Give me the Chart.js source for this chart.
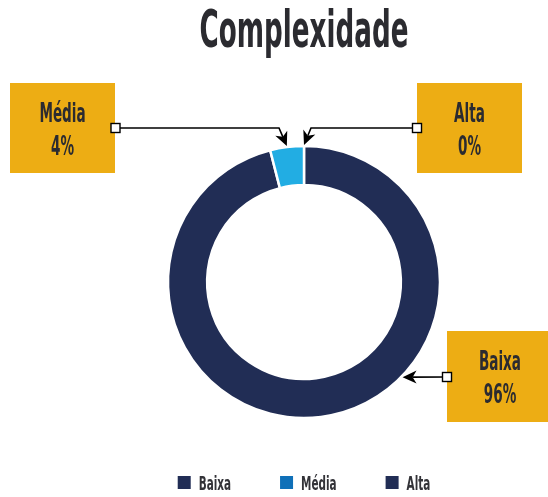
<!DOCTYPE html>
<html>
<head>
<meta charset="utf-8">
<script src="https://cdn.jsdelivr.net/npm/chart.js@4.4.1/dist/chart.umd.min.js"></script>
<style>
html, body { margin: 0; padding: 0; background: #fff; }
#caixa { width: 548px; height: 497px; }
</style>
</head>
<body>
<div id="caixa"><canvas id="grafico" width="548" height="497"></canvas></div>
<script>
const titulo = 'Complexidade'
const categorias = ['Baixa', 'Média', 'Alta']
const valores = [96, 4, 0]
const coresFatia = ['#212d55', '#22ade3', '#212d55']
const coresLegenda = ['#212d55', '#0f70b8', '#212d55']
const fonte = "'DejaVu Sans Condensed', 'DejaVu Sans', sans-serif"
const corTexto = '#2b2b30'
const estreito = 0.58

// caixas das etiquetas (px); angulo fixo da seta so quando nao aponta ao meio da fatia
const chamadas = [
    { x: 447, y: 331, w: 106, h: 91, qx: 447, qy: 377, cotovelo: null, angulo: 134 },
    { x: 10, y: 83, w: 105, h: 90, qx: 115.5, qy: 128, cotovelo: 279, angulo: null },
    { x: 417, y: 83, w: 105, h: 90, qx: 417, qy: 128, cotovelo: 311, angulo: null }
]

function textoEstreito(ctx, texto, x, y, tamanho, escala, alinhar){
    ctx.save()
    ctx.font = 'bold ' + tamanho + 'px ' + fonte
    ctx.textBaseline = 'alphabetic'
    ctx.textAlign = alinhar || 'center'
    ctx.translate(x, y)
    ctx.scale(escala, 1)
    ctx.fillText(texto, 0, 0)
    ctx.restore()
}

function larguraEstreita(ctx, texto, tamanho, escala){
    ctx.save()
    ctx.font = 'bold ' + tamanho + 'px ' + fonte
    const w = ctx.measureText(texto).width * escala
    ctx.restore()
    return w
}

function desenharSeta(ctx, x0, y0, x1, y1){
    const ang = Math.atan2(y1 - y0, x1 - x0)
    const comp = 14
    const larg = 6.5
    ctx.save()
    ctx.translate(x1, y1)
    ctx.rotate(ang)
    ctx.beginPath()
    ctx.moveTo(0, 0)
    ctx.lineTo(-comp, -larg)
    ctx.lineTo(-comp * 0.72, 0)
    ctx.lineTo(-comp, larg)
    ctx.closePath()
    ctx.fillStyle = '#000'
    ctx.fill()
    ctx.restore()
}

const pluginTextos = {
    id: 'textos',
    afterDraw(chart){
        const ctx = chart.ctx
        const area = chart.chartArea
        const centroX = (area.left + area.right) / 2
        ctx.save()
        ctx.fillStyle = corTexto
        textoEstreito(ctx, titulo, centroX, 47, 52, 0.56)

        // legenda
        const tam = 20
        const quadrado = 13
        const vao = 8
        const entre = 49
        const larguras = categorias.map(c => larguraEstreita(ctx, c, tam, estreito))
        const total = larguras.reduce((s, w) => s + quadrado + vao + w, 0) + entre * (categorias.length - 1)
        let x = centroX - total / 2
        const yc = 482.5
        categorias.forEach((c, i) => {
            ctx.fillStyle = coresLegenda[i]
            ctx.fillRect(x, yc - quadrado / 2, quadrado, quadrado)
            ctx.fillStyle = '#333338'
            textoEstreito(ctx, c, x + quadrado + vao, yc + 7.5, tam, estreito, 'left')
            x += quadrado + vao + larguras[i] + entre
        })
        ctx.restore()
    }
}

const pluginChamadas = {
    id: 'chamadas',
    afterDraw(chart){
        const ctx = chart.ctx
        const meta = chart.getDatasetMeta(0)
        meta.data.forEach((arco, i) => {
            const c = chamadas[i]
            const p = arco.getProps(['x', 'y', 'outerRadius', 'startAngle', 'endAngle'], true)
            let a = (p.startAngle + p.endAngle) / 2
            if(c.angulo !== null){
                a = (c.angulo - 90) * Math.PI / 180
            }
            const px = p.x + (p.outerRadius + 1) * Math.cos(a)
            const py = p.y + (p.outerRadius + 1) * Math.sin(a)

            ctx.save()
            ctx.fillStyle = '#edad14'
            ctx.fillRect(c.x, c.y, c.w, c.h)

            ctx.fillStyle = corTexto
            const cx = c.x + c.w / 2
            const cy = c.y + c.h / 2
            textoEstreito(ctx, categorias[i], cx, cy - 6.5, 26, estreito)
            textoEstreito(ctx, valores[i] + '%', cx, cy + 26.5, 26, estreito)

            let ex = c.qx
            let ey = c.qy
            ctx.strokeStyle = '#000'
            ctx.lineWidth = 1.6
            ctx.beginPath()
            ctx.moveTo(c.qx, c.qy)
            if(c.cotovelo !== null){
                ex = c.cotovelo
                ctx.lineTo(ex, ey)
            }
            const d = Math.hypot(px - ex, py - ey)
            ctx.lineTo(px - (px - ex) / d * 10, py - (py - ey) / d * 10)
            ctx.stroke()
            desenharSeta(ctx, ex, ey, px, py)

            ctx.fillStyle = '#fff'
            ctx.fillRect(c.qx - 4.5, c.qy - 4.5, 9, 9)
            ctx.lineWidth = 1.4
            ctx.strokeRect(c.qx - 4.5, c.qy - 4.5, 9, 9)
            ctx.restore()
        })
    }
}

const contexto = document.getElementById('grafico').getContext('2d')
const grafico = new Chart(contexto, {
    type: 'doughnut',
    data: {
        labels: categorias,
        datasets: [{
            data: valores,
            backgroundColor: coresFatia,
            borderColor: '#ffffff',
            borderWidth: 2.5,
            radius: 136,
            cutout: 101
        }]
    },
    plugins: [pluginTextos, pluginChamadas],
    options: {
        responsive: false,
        animation: false,
        events: [],
        layout: { padding: { left: 60, right: 0, top: 139, bottom: 72 } },
        plugins: {
            title: { display: false },
            legend: { display: false },
            tooltip: { enabled: false }
        }
    }
})
</script>
</body>
</html>
